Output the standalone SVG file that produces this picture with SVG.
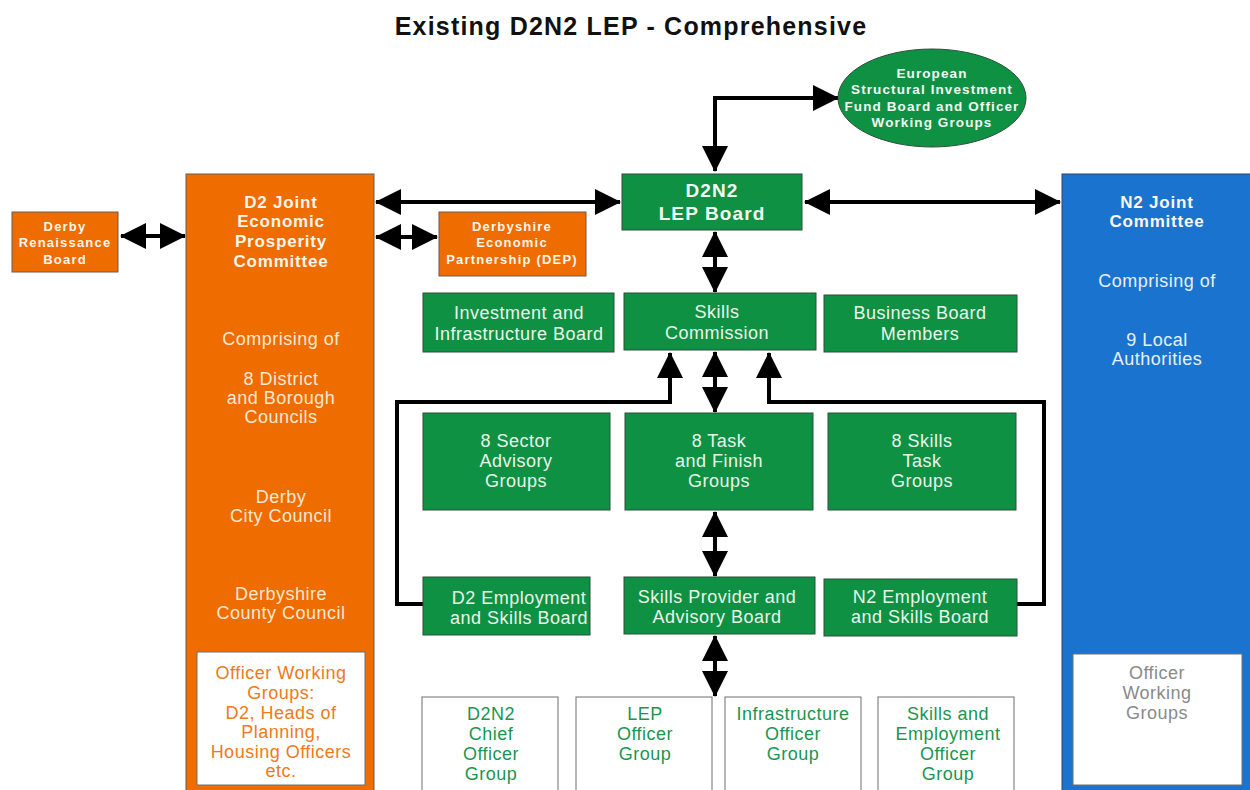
<svg xmlns="http://www.w3.org/2000/svg" width="1250" height="790" viewBox="0 0 1250 790">
<defs>
<style>
.bg{fill:#ffffff}
.org{fill:#ee6c00;stroke:#6b5a4e;stroke-width:1}
.grn{fill:#0f9143;stroke:#2f4f3a;stroke-width:1}
.blu{fill:#1a74cf;stroke:#24466e;stroke-width:1}
.wht{fill:#ffffff;stroke:#6f6f6f;stroke-width:1}
text{font-family:"Liberation Sans",Arial,sans-serif;text-anchor:middle}
.title{font-size:25px;font-weight:bold;fill:#111;letter-spacing:1.2px}
.bh{font-size:17px;font-weight:bold;fill:#fff6ec;letter-spacing:0.8px}
.bs{font-size:13px;font-weight:bold;fill:#fff6ec;letter-spacing:1.2px}
.be{font-size:13.5px;font-weight:bold;fill:#f2fbf2;letter-spacing:1.1px}
.bl{font-size:19px;font-weight:bold;fill:#f2fbf2;letter-spacing:1.1px}
.ro{font-size:18px;fill:#fde8d2;letter-spacing:0.5px}
.rg{font-size:18px;fill:#e8f6ea;letter-spacing:0.5px}
.rb{font-size:18px;fill:#e6f0fb;letter-spacing:0.5px}
.to{font-size:18px;fill:#ee7a1a;letter-spacing:0.5px}
.tg{font-size:18px;fill:#1a9650;letter-spacing:0.5px}
.tgr{font-size:18px;fill:#8a8a8a;letter-spacing:0.5px}
.ln{fill:none;stroke:#000;stroke-width:4}
</style>
<marker id="ah" viewBox="0 0 26 26" markerUnits="userSpaceOnUse" markerWidth="26" markerHeight="26" refX="25" refY="13" orient="auto-start-reverse">
<path d="M0,0 L26,13 L0,26 z" fill="#000"/>
</marker>
</defs>
<rect class="bg" x="0" y="0" width="1250" height="790"/>
<text class="title" x="631" y="35">Existing D2N2 LEP - Comprehensive</text>

<g id="connectors">
<line class="ln" x1="121" y1="236" x2="185" y2="236" marker-start="url(#ah)" marker-end="url(#ah)"/>
<line class="ln" x1="376" y1="202" x2="620" y2="202" marker-start="url(#ah)" marker-end="url(#ah)"/>
<line class="ln" x1="376" y1="237" x2="437" y2="237" marker-start="url(#ah)" marker-end="url(#ah)"/>
<line class="ln" x1="805" y1="202" x2="1060" y2="202" marker-start="url(#ah)" marker-end="url(#ah)"/>
<polyline class="ln" points="715,171 715,98 838,98" marker-start="url(#ah)" marker-end="url(#ah)"/>
<line class="ln" x1="715" y1="232" x2="715" y2="292" marker-start="url(#ah)" marker-end="url(#ah)"/>
<line class="ln" x1="715" y1="352" x2="715" y2="412" marker-start="url(#ah)" marker-end="url(#ah)"/>
<line class="ln" x1="715" y1="512" x2="715" y2="576" marker-start="url(#ah)" marker-end="url(#ah)"/>
<line class="ln" x1="715" y1="636" x2="715" y2="696" marker-start="url(#ah)" marker-end="url(#ah)"/>
<polyline class="ln" points="423,604 397,604 397,402 670,402 670,353" marker-end="url(#ah)"/>
<polyline class="ln" points="1017,604 1044,604 1044,402 769,402 769,353" marker-end="url(#ah)"/>
</g>

<g id="derby-renaissance">
<rect class="org" x="12" y="212" width="106" height="60"/>
<text class="bs" x="65" y="231">Derby</text>
<text class="bs" x="65" y="247">Renaissance</text>
<text class="bs" x="65" y="264">Board</text>
</g>

<g id="d2-joint">
<rect class="org" x="186" y="174" width="188" height="630"/>
<text class="bh" x="281" y="208">D2 Joint</text>
<text class="bh" x="281" y="227">Economic</text>
<text class="bh" x="281" y="247">Prosperity</text>
<text class="bh" x="281" y="267">Committee</text>
<text class="ro" x="281" y="345">Comprising of</text>
<text class="ro" x="281" y="385">8 District</text>
<text class="ro" x="281" y="404">and Borough</text>
<text class="ro" x="281" y="423">Councils</text>
<text class="ro" x="281" y="503">Derby</text>
<text class="ro" x="281" y="522">City Council</text>
<text class="ro" x="281" y="600">Derbyshire</text>
<text class="ro" x="281" y="619">County Council</text>
</g>

<g id="d2-officer">
<rect class="wht" x="197" y="652" width="168" height="133"/>
<text class="to" x="281" y="679">Officer Working</text>
<text class="to" x="281" y="699">Groups:</text>
<text class="to" x="281" y="719">D2, Heads of</text>
<text class="to" x="281" y="738">Planning,</text>
<text class="to" x="281" y="758">Housing Officers</text>
<text class="to" x="281" y="777">etc.</text>
</g>

<g id="dep">
<rect class="org" x="439" y="212" width="147" height="64"/>
<text class="bs" x="512" y="231">Derbyshire</text>
<text class="bs" x="512" y="247">Economic</text>
<text class="bs" x="512" y="264">Partnership (DEP)</text>
</g>

<g id="lep-board">
<rect class="grn" x="622" y="174" width="180" height="56"/>
<text class="bl" x="712" y="197">D2N2</text>
<text class="bl" x="712" y="220">LEP Board</text>
</g>

<g id="esif">
<ellipse class="grn" cx="932" cy="98" rx="94" ry="49"/>
<text class="be" x="932" y="78">European</text>
<text class="be" x="932" y="94">Structural Investment</text>
<text class="be" x="932" y="111">Fund Board and Officer</text>
<text class="be" x="932" y="127">Working Groups</text>
</g>

<g id="n2-joint">
<rect class="blu" x="1062" y="174" width="200" height="630"/>
<text class="bh" x="1157" y="208">N2 Joint</text>
<text class="bh" x="1157" y="227">Committee</text>
<text class="rb" x="1157" y="287">Comprising of</text>
<text class="rb" x="1157" y="346">9 Local</text>
<text class="rb" x="1157" y="365">Authorities</text>
</g>

<g id="n2-officer">
<rect class="wht" x="1073" y="654" width="169" height="131"/>
<text class="tgr" x="1157" y="679">Officer</text>
<text class="tgr" x="1157" y="699">Working</text>
<text class="tgr" x="1157" y="719">Groups</text>
</g>

<g id="investment">
<rect class="grn" x="423" y="293" width="191" height="59"/>
<text class="rg" x="519" y="319">Investment and</text>
<text class="rg" x="519" y="340">Infrastructure Board</text>
</g>
<g id="skills-commission">
<rect class="grn" x="624" y="293" width="192" height="57"/>
<text class="rg" x="717" y="318">Skills</text>
<text class="rg" x="717" y="339">Commission</text>
</g>
<g id="business-board">
<rect class="grn" x="824" y="295" width="193" height="57"/>
<text class="rg" x="920" y="319">Business Board</text>
<text class="rg" x="920" y="340">Members</text>
</g>

<g id="sector-advisory">
<rect class="grn" x="423" y="413" width="187" height="97"/>
<text class="rg" x="516" y="447">8 Sector</text>
<text class="rg" x="516" y="467">Advisory</text>
<text class="rg" x="516" y="487">Groups</text>
</g>
<g id="task-finish">
<rect class="grn" x="625" y="413" width="188" height="97"/>
<text class="rg" x="719" y="447">8 Task</text>
<text class="rg" x="719" y="467">and Finish</text>
<text class="rg" x="719" y="487">Groups</text>
</g>
<g id="skills-task">
<rect class="grn" x="828" y="413" width="188" height="97"/>
<text class="rg" x="922" y="447">8 Skills</text>
<text class="rg" x="922" y="467">Task</text>
<text class="rg" x="922" y="487">Groups</text>
</g>

<g id="d2-employment">
<rect class="grn" x="423" y="577" width="167" height="58"/>
<text class="rg" x="519" y="604">D2 Employment</text>
<text class="rg" x="519" y="624">and Skills Board</text>
</g>
<g id="skills-provider">
<rect class="grn" x="624" y="577" width="191" height="57"/>
<text class="rg" x="717" y="603">Skills Provider and</text>
<text class="rg" x="717" y="623">Advisory Board</text>
</g>
<g id="n2-employment">
<rect class="grn" x="824" y="579" width="193" height="57"/>
<text class="rg" x="920" y="603">N2 Employment</text>
<text class="rg" x="920" y="623">and Skills Board</text>
</g>

<g id="chief-officer">
<rect class="wht" x="422" y="697" width="136" height="100"/>
<text class="tg" x="491" y="720">D2N2</text>
<text class="tg" x="491" y="740">Chief</text>
<text class="tg" x="491" y="760">Officer</text>
<text class="tg" x="491" y="780">Group</text>
</g>
<g id="lep-officer">
<rect class="wht" x="576" y="697" width="136" height="100"/>
<text class="tg" x="645" y="720">LEP</text>
<text class="tg" x="645" y="740">Officer</text>
<text class="tg" x="645" y="760">Group</text>
</g>
<g id="infra-officer">
<rect class="wht" x="725" y="697" width="136" height="100"/>
<text class="tg" x="793" y="720">Infrastructure</text>
<text class="tg" x="793" y="740">Officer</text>
<text class="tg" x="793" y="760">Group</text>
</g>
<g id="skills-officer">
<rect class="wht" x="878" y="697" width="136" height="100"/>
<text class="tg" x="948" y="720">Skills and</text>
<text class="tg" x="948" y="740">Employment</text>
<text class="tg" x="948" y="760">Officer</text>
<text class="tg" x="948" y="780">Group</text>
</g>
</svg>
